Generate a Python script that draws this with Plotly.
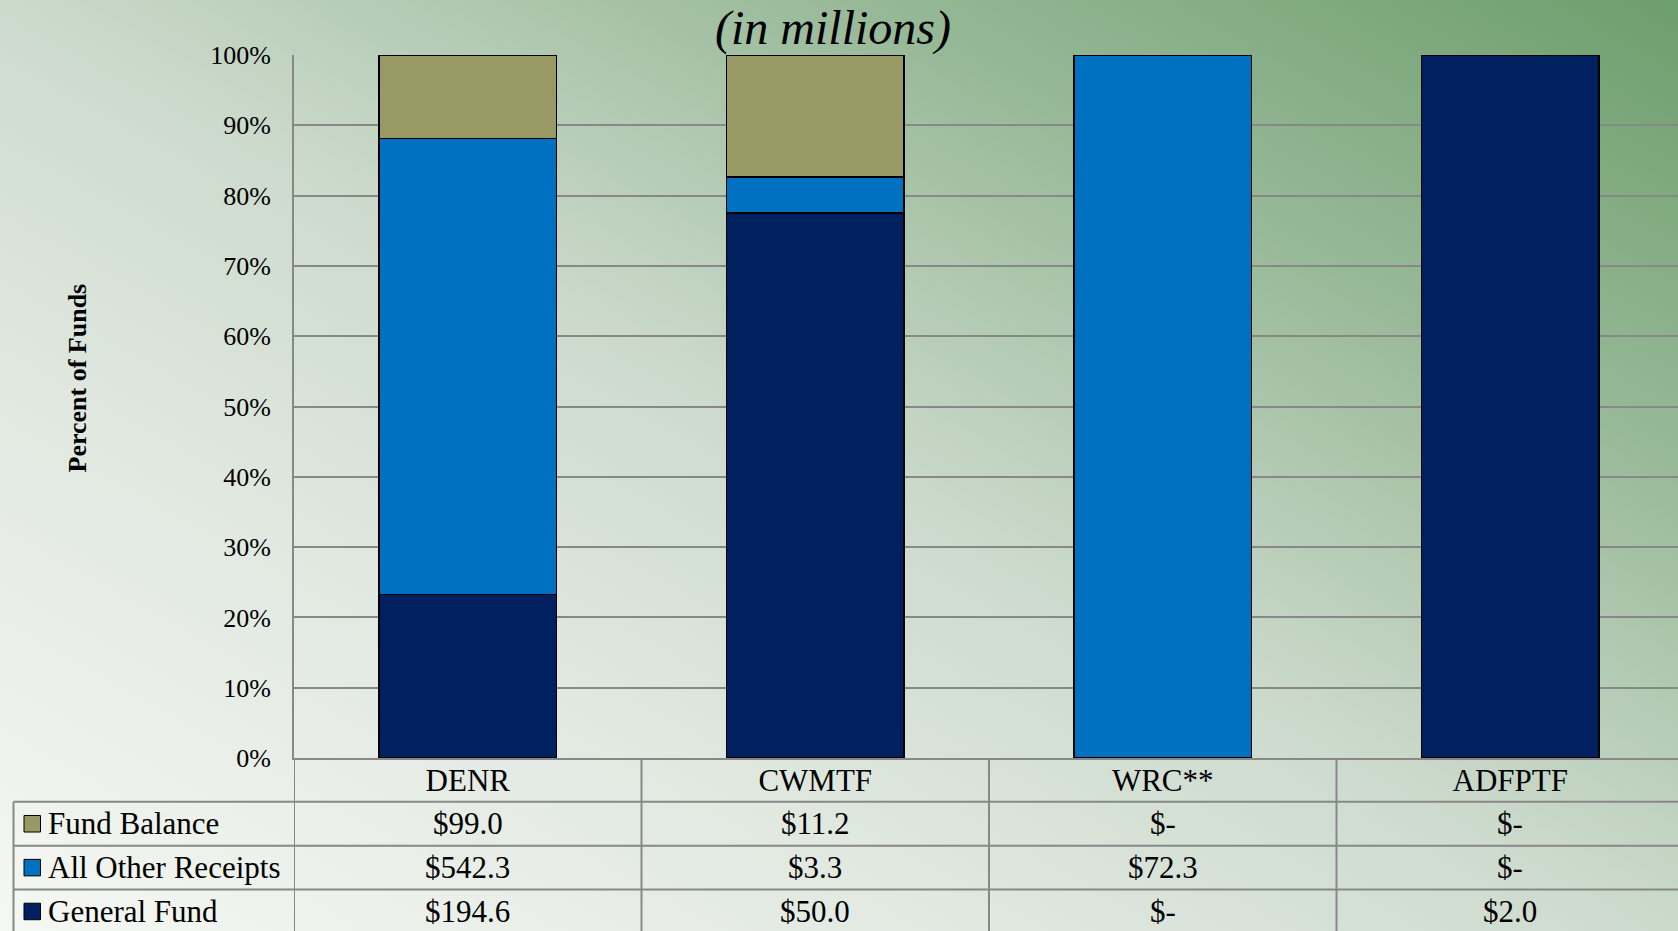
import base64
import plotly.graph_objects as go

# ---------------- data ----------------
categories = ["DENR", "CWMTF", "WRC**", "ADFPTF"]
general_fund = [194.6, 50.0, 0.0, 2.0]
all_other_receipts = [542.3, 3.3, 72.3, 0.0]
fund_balance = [99.0, 11.2, 0.0, 0.0]

series_names = ["General Fund", "All Other Receipts", "Fund Balance"]
series_values = [general_fund, all_other_receipts, fund_balance]
series_colors = ["#002060", "#0070C0", "#999966"]

y_tick_values = [0, 10, 20, 30, 40, 50, 60, 70, 80, 90, 100]
y_tick_labels = [f"{v}%" for v in y_tick_values]

title_text = "(in millions)"
y_title_text = "Percent of Funds"

# ---------------- layout geometry (pixels) ----------------
W, H = 1678, 931
L, T, B = 294, 55, 173
PW, PH = W - L, H - T - B
CAT_W = 347.5
ROW_H = 43.85
FONT = "Liberation Serif, Times New Roman, serif"
GRID = "#888888"


def px_x(p):
    return (p - L) / PW


def px_y(p):
    return (H - B - p) / PH


fig = go.Figure()
for name, vals, col in zip(series_names, series_values, series_colors):
    fig.add_trace(go.Bar(
        x=categories, y=vals, name=name,
        marker=dict(color=col, line=dict(color="black", width=1.5)),
        showlegend=False,
    ))

shapes = []
annotations = []

# table geometry
axis_px = H - B
row_bounds = [axis_px + ROW_H * i for i in range(5)]
bottom_px = H + 10
left_px = 13.5

# column separators (category boundaries) and y-axis extension
for i in range(len(categories)):
    shapes.append(dict(type="line", xref="x", yref="paper",
                       x0=i - 0.5, x1=i - 0.5, y0=0, y1=px_y(bottom_px),
                       line=dict(color=GRID, width=2), layer="above"))
# left border of labelled rows
shapes.append(dict(type="line", xref="paper", yref="paper",
                   x0=px_x(left_px), x1=px_x(left_px),
                   y0=px_y(row_bounds[1]), y1=px_y(bottom_px),
                   line=dict(color=GRID, width=2), layer="above"))
# horizontal row lines
for rb in row_bounds[1:]:
    shapes.append(dict(type="line", xref="paper", yref="paper",
                       x0=px_x(left_px), x1=px_x(W + 10),
                       y0=px_y(rb), y1=px_y(rb),
                       line=dict(color=GRID, width=2), layer="above"))

# table rows: legend key + label + values (top row = last series)
row_series = list(zip(series_names, series_values, series_colors))[::-1]
for r, (name, vals, col) in enumerate(row_series):
    top = row_bounds[r + 1]
    cy = top + ROW_H / 2
    shapes.append(dict(type="rect", xref="paper", yref="paper",
                       x0=px_x(24), x1=px_x(40.5),
                       y0=px_y(cy - 8.25), y1=px_y(cy + 8.25),
                       fillcolor=col, line=dict(color="black", width=1),
                       layer="above"))
    annotations.append(dict(xref="paper", yref="paper", x=px_x(46), y=px_y(cy),
                            xanchor="left", yanchor="middle", showarrow=False,
                            text=name, font=dict(family=FONT, size=31, color="black")))
    for c, v in zip(categories, vals):
        txt = f"${v:.1f}" if v else "$-"
        annotations.append(dict(xref="x", yref="paper", x=c, y=px_y(cy),
                                xanchor="center", yanchor="middle", showarrow=False,
                                text=txt, font=dict(family=FONT, size=31, color="black")))

# y-axis title
annotations.append(dict(xref="paper", yref="paper", x=px_x(77), y=px_y(377.5),
                        xanchor="center", yanchor="middle", showarrow=False,
                        textangle=-90, text=f"<b>{y_title_text}</b>",
                        font=dict(family=FONT, size=26, color="black")))

# gradient background
svg = (
    f'<svg xmlns="http://www.w3.org/2000/svg" width="{W}" height="{H}" '
    f'viewBox="0 0 {W} {H}" preserveAspectRatio="none">'
    '<defs><linearGradient id="g" x1="0" y1="1" x2="1" y2="0">'
    '<stop offset="0" stop-color="#f5f7f3"/>'
    '<stop offset="0.3" stop-color="#e0e8e0"/>'
    '<stop offset="0.5" stop-color="#ccdacc"/>'
    '<stop offset="0.75" stop-color="#98b998"/>'
    '<stop offset="1" stop-color="#6d9e6d"/>'
    '</linearGradient></defs>'
    f'<rect x="0" y="0" width="{W}" height="{H}" fill="url(#g)"/></svg>'
)
src = "data:image/svg+xml;base64," + base64.b64encode(svg.encode()).decode()

fig.update_layout(
    width=W, height=H,
    margin=dict(l=L, r=0, t=T, b=B, pad=0),
    barmode="stack", barnorm="percent", bargap=0.489,
    paper_bgcolor="#c8d8c8", plot_bgcolor="rgba(0,0,0,0)",
    font=dict(family=FONT, color="black"),
    title=dict(text=f"<i>{title_text}</i>", x=833 / W, y=1 - 27 / H,
               xref="container", yref="container",
               xanchor="center", yanchor="middle",
               font=dict(family=FONT, size=48, color="black")),
    xaxis=dict(range=[-0.5, -0.5 + PW / CAT_W], showgrid=False, zeroline=False,
               showline=True, linecolor=GRID, linewidth=2, ticks="",
               tickfont=dict(family=FONT, size=31, color="black"),
               ticklabelstandoff=-6),
    yaxis=dict(range=[0, 100], tickvals=y_tick_values, ticktext=y_tick_labels,
               showgrid=True, gridcolor=GRID, gridwidth=2, zeroline=False,
               showline=True, linecolor=GRID, linewidth=2, ticks="",
               tickfont=dict(family=FONT, size=26, color="black"),
               ticklabelstandoff=16),
    shapes=shapes,
    annotations=annotations,
    images=[dict(source=src, xref="paper", yref="paper",
                 x=px_x(0), y=px_y(0), sizex=W / PW, sizey=H / PH,
                 xanchor="left", yanchor="top", sizing="stretch", layer="below")],
    showlegend=False,
)

fig.write_html("out.html", config={"displayModeBar": False},
               post_script="document.body.style.margin='0';document.body.style.overflow='hidden';")
